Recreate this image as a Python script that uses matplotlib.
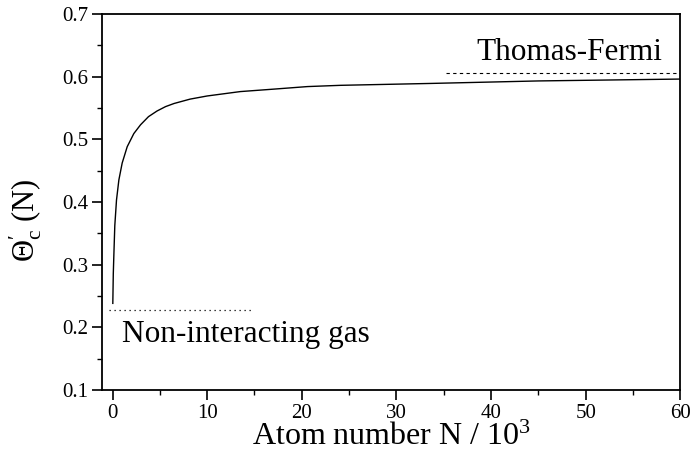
import numpy as np
import matplotlib
matplotlib.use("Agg")
import matplotlib.pyplot as plt
from matplotlib.ticker import MultipleLocator

#Fonts: Times-like serif everywhere, mathtext to match
plt.rcParams['font.family'] = ['Liberation Serif', 'DejaVu Serif']
plt.rcParams['mathtext.fontset'] = 'custom'
plt.rcParams['mathtext.rm'] = 'Liberation Serif'
plt.rcParams['mathtext.it'] = 'Liberation Serif:italic'

#========================================================================================================
# Data
#========================================================================================================

#Atom number N / 10^3 and critical temperature curve
atom_number = [0.03, 0.08, 0.14, 0.24, 0.42, 0.67, 1.02, 1.55, 2.25, 2.96, 3.8, 4.7, 5.6, 6.5, 8.2,
               10.0, 13.5, 17.1, 20.6, 24.1, 33.6, 45, 60]
theta_c = [0.238, 0.285, 0.315, 0.362, 0.403, 0.435, 0.462, 0.488, 0.509, 0.523, 0.536, 0.545, 0.552,
           0.557, 0.564, 0.569, 0.576, 0.580, 0.584, 0.586, 0.589, 0.593, 0.596]

#Limits: Thomas-Fermi (large N) and non-interacting gas
tf_x = [35.2, 60]
tf_y = [0.605, 0.605]
ideal_x = [-0.4, 15]
ideal_y = [0.228, 0.228]

#========================================================================================================
# Plot
#========================================================================================================

fig = plt.figure(figsize=(6.9, 4.63), dpi=100)
ax = fig.add_axes([0.148, 0.158, 0.838, 0.812])

ax.plot(atom_number, theta_c, '-', color='k', linewidth=1.0)
ax.plot(tf_x, tf_y, '--', color='k', linewidth=0.8, dashes=(3, 3))
ax.plot(ideal_x, ideal_y, ':', color='k', linewidth=0.9, dashes=(1, 3))

ax.text(48.3, 0.616, "Thomas-Fermi", fontsize=22.5, ha='center', va='bottom')
ax.text(1.0, 0.212, "Non-interacting gas", fontsize=22.5, ha='left', va='top')

ax.set_xlim(-1.1, 60)
ax.set_ylim(0.1, 0.7)
ax.xaxis.set_major_locator(MultipleLocator(10))
ax.xaxis.set_minor_locator(MultipleLocator(5))
ax.yaxis.set_major_locator(MultipleLocator(0.1))
ax.yaxis.set_minor_locator(MultipleLocator(0.05))
ax.set_xticks([0, 10, 20, 30, 40, 50, 60])
ax.set_xticklabels(['0', '10', '20', '30', '40', '50', '60'])

ax.tick_params(which='major', direction='out', length=7, width=1.2, labelsize=15, pad=3)
ax.tick_params(which='minor', direction='out', length=3.5, width=1.0)
ax.tick_params(top=False, right=False)
for sp in ax.spines.values():
    sp.set_linewidth(1.3)

ax.set_xlabel(r"Atom number N / 10$^3$", fontsize=23, labelpad=0)
ax.set_ylabel(r"$\Theta_{\mathrm{c}}^{\prime}$ (N)", fontsize=22)
ax.yaxis.set_label_coords(-0.1, 0.45)

plt.savefig("out.png", dpi=100)
plt.close()
